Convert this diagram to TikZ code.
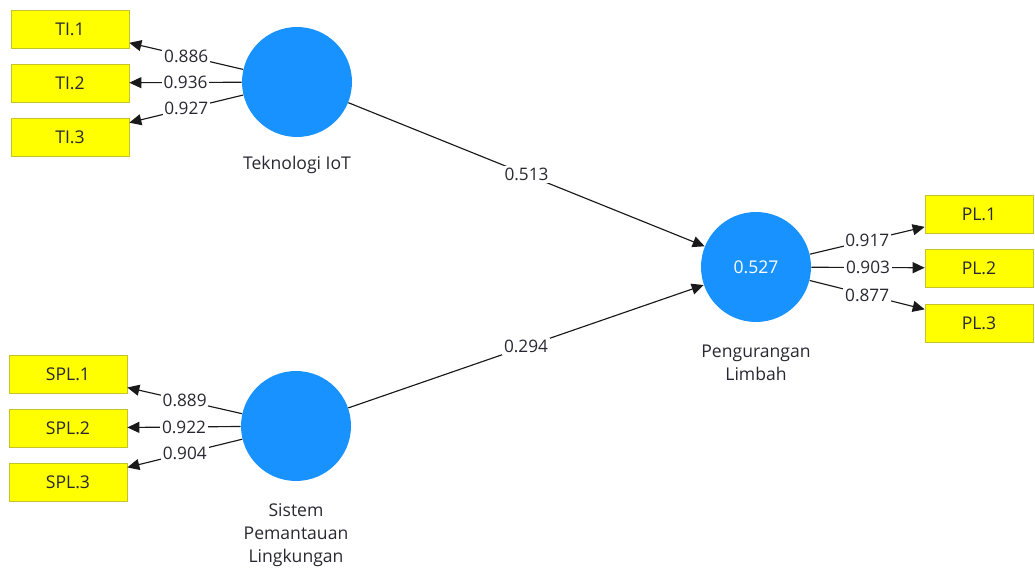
\documentclass[tikz,border=0pt]{standalone}
\usepackage{fontspec}
\setmainfont{Open Sans}
\usetikzlibrary{arrows.meta}
\definecolor{lvblue}{RGB}{24,146,255}
\definecolor{indyellow}{RGB}{255,255,0}
\definecolor{indborder}{RGB}{196,196,40}
\definecolor{txtgray}{RGB}{40,40,50}

\begin{document}
\begin{tikzpicture}[x=0.02cm, y=-0.02cm,
  indicator/.style={draw=indborder, fill=indyellow, inner sep=0pt,
    minimum width=2.36cm, minimum height=0.76cm,
    font=\fontsize{10}{12}\selectfont, text=txtgray},
  latent/.style={circle, fill=lvblue, inner sep=0pt, minimum size=2.2cm,
    font=\fontsize{10}{12}\selectfont, text=white},
  caption/.style={align=center, inner sep=0pt,
    font=\fontsize{10}{13}\selectfont, text=txtgray},
  coef/.style={fill=white, inner sep=1pt,
    font=\fontsize{9.8}{11}\selectfont, text=txtgray},
  flow/.style={-{Triangle[length=2.4mm, width=2.2mm]}, draw=black!90,
    line width=0.65pt}
]
  \useasboundingbox (0,0) rectangle (1035,570);

  \node[latent] (ti) at (297,82) {};
  \node[latent] (spl) at (296,426) {};
  \node[latent] (pl) at (756,267) {0.527};

  \node[caption] (tiname) at (297,165) {Teknologi IoT};
  \node[caption] (plname) at (756,363) {Pengurangan\\Limbah};
  \node[caption] (splname) at (296,535) {Sistem\\Pemantauan\\Lingkungan};

  \node[indicator] (ti1) at (70,29) {TI.1};
  \node[indicator] (ti2) at (70,83) {TI.2};
  \node[indicator] (ti3) at (70,137) {TI.3};

  \node[indicator] (spl1) at (68,374) {SPL.1};
  \node[indicator] (spl2) at (68,428) {SPL.2};
  \node[indicator] (spl3) at (68,482) {SPL.3};

  \node[indicator, minimum width=2.16cm] (pl1) at (979,214) {PL.1};
  \node[indicator, minimum width=2.16cm] (pl2) at (979,268) {PL.2};
  \node[indicator, minimum width=2.16cm] (pl3) at (979,323) {PL.3};

  \draw[flow] (ti) -- node[coef] {0.886} (ti1);
  \draw[flow] (ti) -- node[coef] {0.936} (ti2);
  \draw[flow] (ti) -- node[coef] {0.927} (ti3);

  \draw[flow] (spl) -- node[coef] {0.889} (spl1);
  \draw[flow] (spl) -- node[coef] {0.922} (spl2);
  \draw[flow] (spl) -- node[coef] {0.904} (spl3);

  \draw[flow] (pl) -- node[coef] {0.917} (pl1);
  \draw[flow] (pl) -- node[coef] {0.903} (pl2);
  \draw[flow] (pl) -- node[coef] {0.877} (pl3);

  \draw[flow] (ti) -- node[coef] {0.513} (pl);
  \draw[flow] (spl) -- node[coef] {0.294} (pl);
\end{tikzpicture}
\end{document}
